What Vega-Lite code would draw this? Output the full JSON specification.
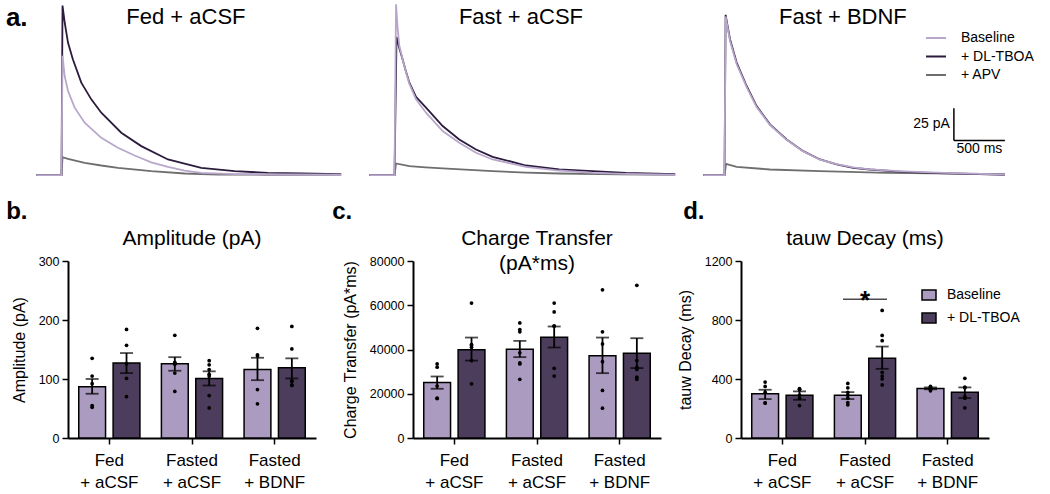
{
"$schema": "https://vega.github.io/schema/vega-lite/v6.json",
"background": "white",
"padding": {"left": 5, "top": 0, "right": 0, "bottom": 0},
"config": {
  "view": {"stroke": null},
  "font": "Liberation Sans, Arial, sans-serif",
  "axis": {"domainColor": "black", "domainWidth": 2, "tickColor": "black", "tickWidth": 1.5, "labelColor": "black", "titleColor": "black", "grid": false, "titleFontWeight": "normal"},
  "axisX": {"labelAngle": 0, "labelFontSize": 17, "labelLineHeight": 22, "tickSize": 6, "labelPadding": 8, "labelBaseline": "top"},
  "axisY": {"labelFontSize": 12.5, "titleFontSize": 16, "tickSize": 6, "labelPadding": 3, "titlePadding": 11},
  "title": {"color": "black", "fontWeight": "bold", "fontSize": 24, "anchor": "start", "frame": "bounds", "baseline": "alphabetic", "offset": 0}
},
"datasets": {
  "traces": [
    {"panel":"Fed + aCSF","series":"+ APV","t":-252,"pA":0},{"panel":"Fed + aCSF","series":"+ APV","t":-5,"pA":0},{"panel":"Fed + aCSF","series":"+ APV","t":5,"pA":14},{"panel":"Fed + aCSF","series":"+ APV","t":59,"pA":12.7},{"panel":"Fed + aCSF","series":"+ APV","t":222,"pA":9.6},{"panel":"Fed + aCSF","series":"+ APV","t":385,"pA":7.5},{"panel":"Fed + aCSF","series":"+ APV","t":548,"pA":5.7},{"panel":"Fed + aCSF","series":"+ APV","t":875,"pA":3.1},{"panel":"Fed + aCSF","series":"+ APV","t":1202,"pA":1.3},{"panel":"Fed + aCSF","series":"+ APV","t":1528,"pA":0.5},{"panel":"Fed + aCSF","series":"+ APV","t":2000,"pA":0.3},{"panel":"Fed + aCSF","series":"+ APV","t":2737,"pA":0.2},
    {"panel":"Fed + aCSF","series":"+ DL-TBOA","t":-252,"pA":0},{"panel":"Fed + aCSF","series":"+ DL-TBOA","t":-5,"pA":0},{"panel":"Fed + aCSF","series":"+ DL-TBOA","t":5,"pA":132},{"panel":"Fed + aCSF","series":"+ DL-TBOA","t":26,"pA":119},{"panel":"Fed + aCSF","series":"+ DL-TBOA","t":59,"pA":103},{"panel":"Fed + aCSF","series":"+ DL-TBOA","t":107,"pA":90},{"panel":"Fed + aCSF","series":"+ DL-TBOA","t":189,"pA":72},{"panel":"Fed + aCSF","series":"+ DL-TBOA","t":287,"pA":59},{"panel":"Fed + aCSF","series":"+ DL-TBOA","t":385,"pA":48.6},{"panel":"Fed + aCSF","series":"+ DL-TBOA","t":581,"pA":33},{"panel":"Fed + aCSF","series":"+ DL-TBOA","t":777,"pA":22.6},{"panel":"Fed + aCSF","series":"+ DL-TBOA","t":1039,"pA":12.2},{"panel":"Fed + aCSF","series":"+ DL-TBOA","t":1365,"pA":5.7},{"panel":"Fed + aCSF","series":"+ DL-TBOA","t":1692,"pA":3.1},{"panel":"Fed + aCSF","series":"+ DL-TBOA","t":2019,"pA":1.8},{"panel":"Fed + aCSF","series":"+ DL-TBOA","t":2345,"pA":1.3},{"panel":"Fed + aCSF","series":"+ DL-TBOA","t":2737,"pA":0.8},
    {"panel":"Fed + aCSF","series":"Baseline","t":-252,"pA":0},{"panel":"Fed + aCSF","series":"Baseline","t":-5,"pA":0},{"panel":"Fed + aCSF","series":"Baseline","t":5,"pA":93},{"panel":"Fed + aCSF","series":"Baseline","t":26,"pA":77},{"panel":"Fed + aCSF","series":"Baseline","t":59,"pA":65.5},{"panel":"Fed + aCSF","series":"Baseline","t":124,"pA":52.5},{"panel":"Fed + aCSF","series":"Baseline","t":222,"pA":40.8},{"panel":"Fed + aCSF","series":"Baseline","t":385,"pA":29},{"panel":"Fed + aCSF","series":"Baseline","t":548,"pA":21.3},{"panel":"Fed + aCSF","series":"Baseline","t":712,"pA":15.3},{"panel":"Fed + aCSF","series":"Baseline","t":875,"pA":10},{"panel":"Fed + aCSF","series":"Baseline","t":1039,"pA":6.5},{"panel":"Fed + aCSF","series":"Baseline","t":1202,"pA":3.6},{"panel":"Fed + aCSF","series":"Baseline","t":1365,"pA":1.8},{"panel":"Fed + aCSF","series":"Baseline","t":1692,"pA":0.8},{"panel":"Fed + aCSF","series":"Baseline","t":2737,"pA":0.3},
    {"panel":"Fast + aCSF","series":"+ APV","t":-252,"pA":0},{"panel":"Fast + aCSF","series":"+ APV","t":-5,"pA":0},{"panel":"Fast + aCSF","series":"+ APV","t":10,"pA":9.1},{"panel":"Fast + aCSF","series":"+ APV","t":141,"pA":7},{"panel":"Fast + aCSF","series":"+ APV","t":300,"pA":6},{"panel":"Fast + aCSF","series":"+ APV","t":467,"pA":5.2},{"panel":"Fast + aCSF","series":"+ APV","t":957,"pA":3.1},{"panel":"Fast + aCSF","series":"+ APV","t":1284,"pA":2},{"panel":"Fast + aCSF","series":"+ APV","t":1610,"pA":1.3},{"panel":"Fast + aCSF","series":"+ APV","t":2200,"pA":0.6},{"panel":"Fast + aCSF","series":"+ APV","t":2747,"pA":0.3},
    {"panel":"Fast + aCSF","series":"+ DL-TBOA","t":-252,"pA":0},{"panel":"Fast + aCSF","series":"+ DL-TBOA","t":-5,"pA":0},{"panel":"Fast + aCSF","series":"+ DL-TBOA","t":15,"pA":107.6},{"panel":"Fast + aCSF","series":"+ DL-TBOA","t":42,"pA":99},{"panel":"Fast + aCSF","series":"+ DL-TBOA","t":75,"pA":90},{"panel":"Fast + aCSF","series":"+ DL-TBOA","t":108,"pA":80.5},{"panel":"Fast + aCSF","series":"+ DL-TBOA","t":141,"pA":72},{"panel":"Fast + aCSF","series":"+ DL-TBOA","t":206,"pA":61},{"panel":"Fast + aCSF","series":"+ DL-TBOA","t":304,"pA":52.5},{"panel":"Fast + aCSF","series":"+ DL-TBOA","t":467,"pA":38.2},{"panel":"Fast + aCSF","series":"+ DL-TBOA","t":630,"pA":27.8},{"panel":"Fast + aCSF","series":"+ DL-TBOA","t":794,"pA":20},{"panel":"Fast + aCSF","series":"+ DL-TBOA","t":957,"pA":14.3},{"panel":"Fast + aCSF","series":"+ DL-TBOA","t":1284,"pA":7.5},{"panel":"Fast + aCSF","series":"+ DL-TBOA","t":1610,"pA":4.4},{"panel":"Fast + aCSF","series":"+ DL-TBOA","t":1937,"pA":3.1},{"panel":"Fast + aCSF","series":"+ DL-TBOA","t":2264,"pA":1.8},{"panel":"Fast + aCSF","series":"+ DL-TBOA","t":2747,"pA":0.8},
    {"panel":"Fast + aCSF","series":"Baseline","t":-252,"pA":0},{"panel":"Fast + aCSF","series":"Baseline","t":-5,"pA":0},{"panel":"Fast + aCSF","series":"Baseline","t":10,"pA":133},{"panel":"Fast + aCSF","series":"Baseline","t":25,"pA":115},{"panel":"Fast + aCSF","series":"Baseline","t":42,"pA":101},{"panel":"Fast + aCSF","series":"Baseline","t":75,"pA":90},{"panel":"Fast + aCSF","series":"Baseline","t":108,"pA":80},{"panel":"Fast + aCSF","series":"Baseline","t":141,"pA":71},{"panel":"Fast + aCSF","series":"Baseline","t":206,"pA":59},{"panel":"Fast + aCSF","series":"Baseline","t":304,"pA":48.6},{"panel":"Fast + aCSF","series":"Baseline","t":467,"pA":34.3},{"panel":"Fast + aCSF","series":"Baseline","t":630,"pA":25.2},{"panel":"Fast + aCSF","series":"Baseline","t":794,"pA":17.4},{"panel":"Fast + aCSF","series":"Baseline","t":957,"pA":12.2},{"panel":"Fast + aCSF","series":"Baseline","t":1284,"pA":6.5},{"panel":"Fast + aCSF","series":"Baseline","t":1610,"pA":3.6},{"panel":"Fast + aCSF","series":"Baseline","t":1937,"pA":1.8},{"panel":"Fast + aCSF","series":"Baseline","t":2264,"pA":1},{"panel":"Fast + aCSF","series":"Baseline","t":2747,"pA":0.3},
    {"panel":"Fast + BDNF","series":"+ APV","t":-213,"pA":0},{"panel":"Fast + BDNF","series":"+ APV","t":-5,"pA":0},{"panel":"Fast + BDNF","series":"+ APV","t":10,"pA":8.8},{"panel":"Fast + BDNF","series":"+ APV","t":114,"pA":6.5},{"panel":"Fast + BDNF","series":"+ APV","t":441,"pA":4.4},{"panel":"Fast + BDNF","series":"+ APV","t":931,"pA":3.1},{"panel":"Fast + BDNF","series":"+ APV","t":1584,"pA":1.8},{"panel":"Fast + BDNF","series":"+ APV","t":2744,"pA":0.8},
    {"panel":"Fast + BDNF","series":"+ DL-TBOA","t":-213,"pA":0},{"panel":"Fast + BDNF","series":"+ DL-TBOA","t":-5,"pA":0},{"panel":"Fast + BDNF","series":"+ DL-TBOA","t":6,"pA":124.8},{"panel":"Fast + BDNF","series":"+ DL-TBOA","t":49,"pA":105.8},{"panel":"Fast + BDNF","series":"+ DL-TBOA","t":114,"pA":87.6},{"panel":"Fast + BDNF","series":"+ DL-TBOA","t":212,"pA":69.4},{"panel":"Fast + BDNF","series":"+ DL-TBOA","t":310,"pA":53.8},{"panel":"Fast + BDNF","series":"+ DL-TBOA","t":441,"pA":39.5},{"panel":"Fast + BDNF","series":"+ DL-TBOA","t":604,"pA":27.8},{"panel":"Fast + BDNF","series":"+ DL-TBOA","t":767,"pA":18.7},{"panel":"Fast + BDNF","series":"+ DL-TBOA","t":931,"pA":12.2},{"panel":"Fast + BDNF","series":"+ DL-TBOA","t":1094,"pA":8.3},{"panel":"Fast + BDNF","series":"+ DL-TBOA","t":1257,"pA":5.7},{"panel":"Fast + BDNF","series":"+ DL-TBOA","t":1421,"pA":4.4},{"panel":"Fast + BDNF","series":"+ DL-TBOA","t":1747,"pA":2.6},{"panel":"Fast + BDNF","series":"+ DL-TBOA","t":2074,"pA":1.6},{"panel":"Fast + BDNF","series":"+ DL-TBOA","t":2401,"pA":1},{"panel":"Fast + BDNF","series":"+ DL-TBOA","t":2744,"pA":0.3},
    {"panel":"Fast + BDNF","series":"Baseline","t":-213,"pA":0},{"panel":"Fast + BDNF","series":"Baseline","t":-5,"pA":0},{"panel":"Fast + BDNF","series":"Baseline","t":6,"pA":123.5},{"panel":"Fast + BDNF","series":"Baseline","t":49,"pA":104.5},{"panel":"Fast + BDNF","series":"Baseline","t":114,"pA":86.5},{"panel":"Fast + BDNF","series":"Baseline","t":212,"pA":68.5},{"panel":"Fast + BDNF","series":"Baseline","t":310,"pA":53},{"panel":"Fast + BDNF","series":"Baseline","t":441,"pA":39},{"panel":"Fast + BDNF","series":"Baseline","t":604,"pA":27.5},{"panel":"Fast + BDNF","series":"Baseline","t":767,"pA":18.5},{"panel":"Fast + BDNF","series":"Baseline","t":931,"pA":12},{"panel":"Fast + BDNF","series":"Baseline","t":1094,"pA":8.5},{"panel":"Fast + BDNF","series":"Baseline","t":1257,"pA":6},{"panel":"Fast + BDNF","series":"Baseline","t":1421,"pA":4.5},{"panel":"Fast + BDNF","series":"Baseline","t":1747,"pA":3},{"panel":"Fast + BDNF","series":"Baseline","t":2074,"pA":2},{"panel":"Fast + BDNF","series":"Baseline","t":2401,"pA":1.2},{"panel":"Fast + BDNF","series":"Baseline","t":2744,"pA":0.5}
  ],
  "bars": [
    {"panel":"amp","group":"Fed + aCSF","cond":"Baseline","mean":87,"lo":75,"hi":100},
    {"panel":"amp","group":"Fed + aCSF","cond":"+ DL-TBOA","mean":127,"lo":110,"hi":144},
    {"panel":"amp","group":"Fasted + aCSF","cond":"Baseline","mean":126,"lo":114,"hi":137},
    {"panel":"amp","group":"Fasted + aCSF","cond":"+ DL-TBOA","mean":101,"lo":89,"hi":113},
    {"panel":"amp","group":"Fasted + BDNF","cond":"Baseline","mean":116,"lo":98,"hi":136},
    {"panel":"amp","group":"Fasted + BDNF","cond":"+ DL-TBOA","mean":119,"lo":101,"hi":135},
    {"panel":"charge","group":"Fed + aCSF","cond":"Baseline","mean":25100,"lo":22250,"hi":27800},
    {"panel":"charge","group":"Fed + aCSF","cond":"+ DL-TBOA","mean":39850,"lo":35000,"hi":45400},
    {"panel":"charge","group":"Fasted + aCSF","cond":"Baseline","mean":40150,"lo":36550,"hi":43900},
    {"panel":"charge","group":"Fasted + aCSF","cond":"+ DL-TBOA","mean":45560,"lo":40900,"hi":50400},
    {"panel":"charge","group":"Fasted + BDNF","cond":"Baseline","mean":37150,"lo":29300,"hi":45400},
    {"panel":"charge","group":"Fasted + BDNF","cond":"+ DL-TBOA","mean":38350,"lo":31600,"hi":45100},
    {"panel":"tau","group":"Fed + aCSF","cond":"Baseline","mean":300,"lo":264,"hi":327},
    {"panel":"tau","group":"Fed + aCSF","cond":"+ DL-TBOA","mean":289,"lo":259,"hi":316},
    {"panel":"tau","group":"Fasted + aCSF","cond":"Baseline","mean":289,"lo":264,"hi":311},
    {"panel":"tau","group":"Fasted + aCSF","cond":"+ DL-TBOA","mean":541,"lo":469,"hi":620},
    {"panel":"tau","group":"Fasted + BDNF","cond":"Baseline","mean":336,"lo":330,"hi":343},
    {"panel":"tau","group":"Fasted + BDNF","cond":"+ DL-TBOA","mean":311,"lo":271,"hi":343}
  ],
  "pts": [
    {"panel":"amp","group":"Fed + aCSF","cond":"Baseline","v":135},{"panel":"amp","group":"Fed + aCSF","cond":"Baseline","v":105},{"panel":"amp","group":"Fed + aCSF","cond":"Baseline","v":92},{"panel":"amp","group":"Fed + aCSF","cond":"Baseline","v":55},{"panel":"amp","group":"Fed + aCSF","cond":"Baseline","v":52},
    {"panel":"amp","group":"Fed + aCSF","cond":"+ DL-TBOA","v":184},{"panel":"amp","group":"Fed + aCSF","cond":"+ DL-TBOA","v":157},{"panel":"amp","group":"Fed + aCSF","cond":"+ DL-TBOA","v":126},{"panel":"amp","group":"Fed + aCSF","cond":"+ DL-TBOA","v":101},{"panel":"amp","group":"Fed + aCSF","cond":"+ DL-TBOA","v":70},
    {"panel":"amp","group":"Fasted + aCSF","cond":"Baseline","v":174},{"panel":"amp","group":"Fasted + aCSF","cond":"Baseline","v":128},{"panel":"amp","group":"Fasted + aCSF","cond":"Baseline","v":127},{"panel":"amp","group":"Fasted + aCSF","cond":"Baseline","v":125},{"panel":"amp","group":"Fasted + aCSF","cond":"Baseline","v":110},{"panel":"amp","group":"Fasted + aCSF","cond":"Baseline","v":79},
    {"panel":"amp","group":"Fasted + aCSF","cond":"+ DL-TBOA","v":131},{"panel":"amp","group":"Fasted + aCSF","cond":"+ DL-TBOA","v":124},{"panel":"amp","group":"Fasted + aCSF","cond":"+ DL-TBOA","v":116},{"panel":"amp","group":"Fasted + aCSF","cond":"+ DL-TBOA","v":108},{"panel":"amp","group":"Fasted + aCSF","cond":"+ DL-TBOA","v":105},{"panel":"amp","group":"Fasted + aCSF","cond":"+ DL-TBOA","v":72},{"panel":"amp","group":"Fasted + aCSF","cond":"+ DL-TBOA","v":51},
    {"panel":"amp","group":"Fasted + BDNF","cond":"Baseline","v":186},{"panel":"amp","group":"Fasted + BDNF","cond":"Baseline","v":141},{"panel":"amp","group":"Fasted + BDNF","cond":"Baseline","v":139},{"panel":"amp","group":"Fasted + BDNF","cond":"Baseline","v":82},{"panel":"amp","group":"Fasted + BDNF","cond":"Baseline","v":58},
    {"panel":"amp","group":"Fasted + BDNF","cond":"+ DL-TBOA","v":189},{"panel":"amp","group":"Fasted + BDNF","cond":"+ DL-TBOA","v":151},{"panel":"amp","group":"Fasted + BDNF","cond":"+ DL-TBOA","v":96},{"panel":"amp","group":"Fasted + BDNF","cond":"+ DL-TBOA","v":97},{"panel":"amp","group":"Fasted + BDNF","cond":"+ DL-TBOA","v":89},{"panel":"amp","group":"Fasted + BDNF","cond":"+ DL-TBOA","v":90},
    {"panel":"charge","group":"Fed + aCSF","cond":"Baseline","v":33500},{"panel":"charge","group":"Fed + aCSF","cond":"Baseline","v":32000},{"panel":"charge","group":"Fed + aCSF","cond":"Baseline","v":23500},{"panel":"charge","group":"Fed + aCSF","cond":"Baseline","v":18000},{"panel":"charge","group":"Fed + aCSF","cond":"Baseline","v":17800},
    {"panel":"charge","group":"Fed + aCSF","cond":"+ DL-TBOA","v":61000},{"panel":"charge","group":"Fed + aCSF","cond":"+ DL-TBOA","v":42000},{"panel":"charge","group":"Fed + aCSF","cond":"+ DL-TBOA","v":42200},{"panel":"charge","group":"Fed + aCSF","cond":"+ DL-TBOA","v":41000},{"panel":"charge","group":"Fed + aCSF","cond":"+ DL-TBOA","v":35000},{"panel":"charge","group":"Fed + aCSF","cond":"+ DL-TBOA","v":24500},
    {"panel":"charge","group":"Fasted + aCSF","cond":"Baseline","v":52000},{"panel":"charge","group":"Fasted + aCSF","cond":"Baseline","v":49000},{"panel":"charge","group":"Fasted + aCSF","cond":"Baseline","v":48000},{"panel":"charge","group":"Fasted + aCSF","cond":"Baseline","v":38500},{"panel":"charge","group":"Fasted + aCSF","cond":"Baseline","v":34000},{"panel":"charge","group":"Fasted + aCSF","cond":"Baseline","v":33500},{"panel":"charge","group":"Fasted + aCSF","cond":"Baseline","v":26500},
    {"panel":"charge","group":"Fasted + aCSF","cond":"+ DL-TBOA","v":61000},{"panel":"charge","group":"Fasted + aCSF","cond":"+ DL-TBOA","v":57000},{"panel":"charge","group":"Fasted + aCSF","cond":"+ DL-TBOA","v":50500},{"panel":"charge","group":"Fasted + aCSF","cond":"+ DL-TBOA","v":50700},{"panel":"charge","group":"Fasted + aCSF","cond":"+ DL-TBOA","v":31500},{"panel":"charge","group":"Fasted + aCSF","cond":"+ DL-TBOA","v":28000},
    {"panel":"charge","group":"Fasted + BDNF","cond":"Baseline","v":67000},{"panel":"charge","group":"Fasted + BDNF","cond":"Baseline","v":48000},{"panel":"charge","group":"Fasted + BDNF","cond":"Baseline","v":42500},{"panel":"charge","group":"Fasted + BDNF","cond":"Baseline","v":34500},{"panel":"charge","group":"Fasted + BDNF","cond":"Baseline","v":21500},{"panel":"charge","group":"Fasted + BDNF","cond":"Baseline","v":13500},
    {"panel":"charge","group":"Fasted + BDNF","cond":"+ DL-TBOA","v":69000},{"panel":"charge","group":"Fasted + BDNF","cond":"+ DL-TBOA","v":35000},{"panel":"charge","group":"Fasted + BDNF","cond":"+ DL-TBOA","v":32000},{"panel":"charge","group":"Fasted + BDNF","cond":"+ DL-TBOA","v":31000},{"panel":"charge","group":"Fasted + BDNF","cond":"+ DL-TBOA","v":27500},{"panel":"charge","group":"Fasted + BDNF","cond":"+ DL-TBOA","v":26500},
    {"panel":"tau","group":"Fed + aCSF","cond":"Baseline","v":379},{"panel":"tau","group":"Fed + aCSF","cond":"Baseline","v":350},{"panel":"tau","group":"Fed + aCSF","cond":"Baseline","v":311},{"panel":"tau","group":"Fed + aCSF","cond":"Baseline","v":237},{"panel":"tau","group":"Fed + aCSF","cond":"Baseline","v":238},
    {"panel":"tau","group":"Fed + aCSF","cond":"+ DL-TBOA","v":335},{"panel":"tau","group":"Fed + aCSF","cond":"+ DL-TBOA","v":330},{"panel":"tau","group":"Fed + aCSF","cond":"+ DL-TBOA","v":327},{"panel":"tau","group":"Fed + aCSF","cond":"+ DL-TBOA","v":290},{"panel":"tau","group":"Fed + aCSF","cond":"+ DL-TBOA","v":270},{"panel":"tau","group":"Fed + aCSF","cond":"+ DL-TBOA","v":220},
    {"panel":"tau","group":"Fasted + aCSF","cond":"Baseline","v":370},{"panel":"tau","group":"Fasted + aCSF","cond":"Baseline","v":340},{"panel":"tau","group":"Fasted + aCSF","cond":"Baseline","v":310},{"panel":"tau","group":"Fasted + aCSF","cond":"Baseline","v":290},{"panel":"tau","group":"Fasted + aCSF","cond":"Baseline","v":270},{"panel":"tau","group":"Fasted + aCSF","cond":"Baseline","v":240},{"panel":"tau","group":"Fasted + aCSF","cond":"Baseline","v":225},
    {"panel":"tau","group":"Fasted + aCSF","cond":"+ DL-TBOA","v":865},{"panel":"tau","group":"Fasted + aCSF","cond":"+ DL-TBOA","v":695},{"panel":"tau","group":"Fasted + aCSF","cond":"+ DL-TBOA","v":660},{"panel":"tau","group":"Fasted + aCSF","cond":"+ DL-TBOA","v":445},{"panel":"tau","group":"Fasted + aCSF","cond":"+ DL-TBOA","v":420},{"panel":"tau","group":"Fasted + aCSF","cond":"+ DL-TBOA","v":400},{"panel":"tau","group":"Fasted + aCSF","cond":"+ DL-TBOA","v":360},
    {"panel":"tau","group":"Fasted + BDNF","cond":"Baseline","v":350},{"panel":"tau","group":"Fasted + BDNF","cond":"Baseline","v":345},{"panel":"tau","group":"Fasted + BDNF","cond":"Baseline","v":340},{"panel":"tau","group":"Fasted + BDNF","cond":"Baseline","v":335},{"panel":"tau","group":"Fasted + BDNF","cond":"Baseline","v":330},{"panel":"tau","group":"Fasted + BDNF","cond":"Baseline","v":320},
    {"panel":"tau","group":"Fasted + BDNF","cond":"+ DL-TBOA","v":405},{"panel":"tau","group":"Fasted + BDNF","cond":"+ DL-TBOA","v":345},{"panel":"tau","group":"Fasted + BDNF","cond":"+ DL-TBOA","v":340},{"panel":"tau","group":"Fasted + BDNF","cond":"+ DL-TBOA","v":280},{"panel":"tau","group":"Fasted + BDNF","cond":"+ DL-TBOA","v":270},{"panel":"tau","group":"Fasted + BDNF","cond":"+ DL-TBOA","v":205}
  ]
},
"columns": 1,
"align": "none",
"spacing": 20,
"resolve": {"scale": {"color": "independent"}, "legend": {"color": "independent"}},
"concat": [
  {
    "columns": 3,
    "align": "none",
    "spacing": 20,
    "resolve": {"scale": {"color": "independent"}, "legend": {"color": "independent"}},
    "concat": [
      {
        "width": 274, "height": 176,
        "layer": [
          {
            "data": {"name": "traces"},
            "transform": [{"filter": "datum.panel === 'Fed + aCSF'"}],
            "mark": {"type": "line", "strokeWidth": 1.8},
            "encoding": {
              "x": {"field": "t", "type": "quantitative", "scale": {"domain": [-255, 2745], "range": [-32, 274], "nice": false, "zero": false}, "axis": null},
              "y": {"field": "pA", "type": "quantitative", "scale": {"domain": [-3, 134], "nice": false}, "axis": null},
              "color": {"field": "series", "type": "nominal", "scale": {"domain": ["Baseline", "+ DL-TBOA", "+ APV"], "range": ["#b8a7cb", "#2b1b3d", "#6e6e6e"]}, "legend": null}
            }
          },
          {
            "data": {"values": [{}]},
            "mark": {"type": "text", "text": "Fed + aCSF", "fontSize": 22, "align": "center", "baseline": "alphabetic", "color": "black"},
            "encoding": {"x": {"datum": 1215, "type": "quantitative", "axis": null}, "y": {"datum": 117.6, "type": "quantitative", "axis": null}}
          },
          {
            "data": {"values": [{}]},
            "mark": {"type": "text", "text": "a.", "fontSize": 26, "fontWeight": "bold", "align": "left", "baseline": "alphabetic", "color": "black"},
            "encoding": {"x": {"datum": -550, "type": "quantitative", "axis": null}, "y": {"datum": 116, "type": "quantitative", "axis": null}}
          }
        ]
      },
      {
        "width": 306, "height": 176,
        "layer": [
          {
            "data": {"name": "traces"},
            "transform": [{"filter": "datum.panel === 'Fast + aCSF'"}],
            "mark": {"type": "line", "strokeWidth": 1.8},
            "encoding": {
              "x": {"field": "t", "type": "quantitative", "scale": {"domain": [-255, 2745], "nice": false, "zero": false}, "axis": null},
              "y": {"field": "pA", "type": "quantitative", "scale": {"domain": [-3, 134], "nice": false}, "axis": null},
              "color": {"field": "series", "type": "nominal", "scale": {"domain": ["Baseline", "+ DL-TBOA", "+ APV"], "range": ["#b8a7cb", "#2b1b3d", "#6e6e6e"]}, "legend": null}
            }
          },
          {
            "data": {"values": [{}]},
            "mark": {"type": "text", "text": "Fast + aCSF", "fontSize": 22, "align": "center", "baseline": "alphabetic", "color": "black"},
            "encoding": {"x": {"datum": 1235, "type": "quantitative", "axis": null}, "y": {"datum": 117.6, "type": "quantitative", "axis": null}}
          }
        ]
      },
      {
        "width": 306, "height": 176,
        "layer": [
          {
            "data": {"name": "traces"},
            "transform": [{"filter": "datum.panel === 'Fast + BDNF'"}],
            "mark": {"type": "line", "strokeWidth": 1.8},
            "encoding": {
              "x": {"field": "t", "type": "quantitative", "scale": {"domain": [-255, 2745], "nice": false, "zero": false}, "axis": null},
              "y": {"field": "pA", "type": "quantitative", "scale": {"domain": [-3, 134], "nice": false}, "axis": null},
              "color": {"field": "series", "type": "nominal", "scale": {"domain": ["Baseline", "+ DL-TBOA", "+ APV"], "range": ["#b8a7cb", "#2b1b3d", "#6e6e6e"]},
                "legend": {"orient": "none", "legendX": 226, "legendY": 24, "title": null, "symbolType": "stroke", "symbolSize": 400, "symbolStrokeWidth": 2, "labelFontSize": 14, "labelColor": "black", "labelOffset": 14, "rowPadding": 0.5, "padding": 0}}
            }
          },
          {
            "data": {"values": [{}]},
            "mark": {"type": "text", "text": "Fast + BDNF", "fontSize": 22, "align": "center", "baseline": "alphabetic", "color": "black"},
            "encoding": {"x": {"datum": 1156, "type": "quantitative", "axis": null}, "y": {"datum": 117.6, "type": "quantitative", "axis": null}}
          },
          {
            "data": {"values": [{"t0": 2244, "t1": 2744, "a0": 27, "a1": 52}]},
            "mark": {"type": "rule", "color": "black", "strokeWidth": 1.5},
            "encoding": {
              "x": {"field": "t0", "type": "quantitative", "axis": null},
              "y": {"field": "a0", "type": "quantitative", "axis": null},
              "y2": {"field": "a1"}
            }
          },
          {
            "data": {"values": [{"t0": 2244, "t1": 2744, "a0": 27, "a1": 52}]},
            "mark": {"type": "rule", "color": "black", "strokeWidth": 1.5},
            "encoding": {
              "x": {"field": "t0", "type": "quantitative", "axis": null},
              "x2": {"field": "t1"},
              "y": {"field": "a0", "type": "quantitative", "axis": null}
            }
          },
          {
            "data": {"values": [{"t": 2244, "a": 40, "label": "25 pA"}]},
            "mark": {"type": "text", "align": "right", "dx": -4, "baseline": "middle", "fontSize": 14, "color": "black"},
            "encoding": {
              "x": {"field": "t", "type": "quantitative", "axis": null},
              "y": {"field": "a", "type": "quantitative", "axis": null},
              "text": {"field": "label"}
            }
          },
          {
            "data": {"values": [{"t": 2494, "a": 20, "label": "500 ms"}]},
            "mark": {"type": "text", "align": "center", "baseline": "middle", "fontSize": 14, "color": "black"},
            "encoding": {
              "x": {"field": "t", "type": "quantitative", "axis": null},
              "y": {"field": "a", "type": "quantitative", "axis": null},
              "text": {"field": "label"}
            }
          }
        ]
      }
    ]
  },
  {
    "columns": 3,
    "align": "none",
    "spacing": 16,
    "resolve": {"scale": {"color": "independent"}, "legend": {"color": "independent"}},
    "concat": [
      {
        "width": 248, "height": 177,
        "title": {"text": "b.", "dx": -5},
        "encoding": {
          "x": {"field": "group", "type": "nominal", "title": null, "scale": {"domain": ["Fed + aCSF", "Fasted + aCSF", "Fasted + BDNF"], "paddingInner": 0.26, "paddingOuter": 0.13},
            "axis": {"labelExpr": "[split(datum.label, ' + ')[0], '+ ' + split(datum.label, ' + ')[1]]"}}
        },
        "layer": [
          {"data": {"name": "bars"}, "transform": [{"filter": "datum.panel === 'amp'"}],
           "mark": {"type": "bar", "stroke": "black", "strokeWidth": 1.5},
           "encoding": {
             "xOffset": {"field": "cond", "type": "nominal", "scale": {"domain": ["Baseline", "+ DL-TBOA"], "paddingInner": 0.22, "paddingOuter": 0}},
             "y": {"field": "mean", "type": "quantitative", "title": "Amplitude (pA)", "scale": {"domain": [0, 300], "nice": false}, "axis": {"values": [0, 100, 200, 300]}},
             "color": {"field": "cond", "type": "nominal", "scale": {"domain": ["Baseline", "+ DL-TBOA"], "range": ["#ac9bc0", "#4c3d5c"]}, "legend": null}}},
          {"data": {"name": "pts"}, "transform": [{"filter": "datum.panel === 'amp'"}],
           "mark": {"type": "circle", "color": "black", "size": 14, "opacity": 1},
           "encoding": {"xOffset": {"field": "cond", "type": "nominal"}, "y": {"field": "v", "type": "quantitative", "title": "Amplitude (pA)"}}},
          {"data": {"name": "bars"}, "transform": [{"filter": "datum.panel === 'amp'"}],
           "mark": {"type": "rule", "color": "black", "strokeWidth": 1.8},
           "encoding": {"xOffset": {"field": "cond", "type": "nominal"}, "y": {"field": "lo", "type": "quantitative", "title": "Amplitude (pA)"}, "y2": {"field": "hi"}}},
          {"data": {"name": "bars"}, "transform": [{"filter": "datum.panel === 'amp'"}],
           "mark": {"type": "tick", "color": "black", "thickness": 1.8, "size": 13},
           "encoding": {"xOffset": {"field": "cond", "type": "nominal"}, "y": {"field": "lo", "type": "quantitative", "title": "Amplitude (pA)"}}},
          {"data": {"name": "bars"}, "transform": [{"filter": "datum.panel === 'amp'"}],
           "mark": {"type": "tick", "color": "black", "thickness": 1.8, "size": 13},
           "encoding": {"xOffset": {"field": "cond", "type": "nominal"}, "y": {"field": "hi", "type": "quantitative", "title": "Amplitude (pA)"}}},
          {"data": {"values": [{}]},
           "mark": {"type": "text", "text": "Amplitude (pA)", "fontSize": 21, "align": "center", "baseline": "alphabetic", "color": "black"},
           "encoding": {"x": {"datum": "Fasted + aCSF", "type": "nominal"}, "y": {"datum": 327, "type": "quantitative", "title": "Amplitude (pA)"}}}
        ]
      },
      {
        "width": 248, "height": 177,
        "title": {"text": "c.", "dx": -10},
        "encoding": {
          "x": {"field": "group", "type": "nominal", "title": null, "scale": {"domain": ["Fed + aCSF", "Fasted + aCSF", "Fasted + BDNF"], "paddingInner": 0.26, "paddingOuter": 0.13},
            "axis": {"labelExpr": "[split(datum.label, ' + ')[0], '+ ' + split(datum.label, ' + ')[1]]"}}
        },
        "layer": [
          {"data": {"name": "bars"}, "transform": [{"filter": "datum.panel === 'charge'"}],
           "mark": {"type": "bar", "stroke": "black", "strokeWidth": 1.5},
           "encoding": {
             "xOffset": {"field": "cond", "type": "nominal", "scale": {"domain": ["Baseline", "+ DL-TBOA"], "paddingInner": 0.22, "paddingOuter": 0}},
             "y": {"field": "mean", "type": "quantitative", "title": "Charge Transfer (pA*ms)", "scale": {"domain": [0, 80000], "nice": false}, "axis": {"values": [0, 20000, 40000, 60000, 80000], "format": "d"}},
             "color": {"field": "cond", "type": "nominal", "scale": {"domain": ["Baseline", "+ DL-TBOA"], "range": ["#ac9bc0", "#4c3d5c"]}, "legend": null}}},
          {"data": {"name": "pts"}, "transform": [{"filter": "datum.panel === 'charge'"}],
           "mark": {"type": "circle", "color": "black", "size": 14, "opacity": 1},
           "encoding": {"xOffset": {"field": "cond", "type": "nominal"}, "y": {"field": "v", "type": "quantitative", "title": "Charge Transfer (pA*ms)"}}},
          {"data": {"name": "bars"}, "transform": [{"filter": "datum.panel === 'charge'"}],
           "mark": {"type": "rule", "color": "black", "strokeWidth": 1.8},
           "encoding": {"xOffset": {"field": "cond", "type": "nominal"}, "y": {"field": "lo", "type": "quantitative", "title": "Charge Transfer (pA*ms)"}, "y2": {"field": "hi"}}},
          {"data": {"name": "bars"}, "transform": [{"filter": "datum.panel === 'charge'"}],
           "mark": {"type": "tick", "color": "black", "thickness": 1.8, "size": 13},
           "encoding": {"xOffset": {"field": "cond", "type": "nominal"}, "y": {"field": "lo", "type": "quantitative", "title": "Charge Transfer (pA*ms)"}}},
          {"data": {"name": "bars"}, "transform": [{"filter": "datum.panel === 'charge'"}],
           "mark": {"type": "tick", "color": "black", "thickness": 1.8, "size": 13},
           "encoding": {"xOffset": {"field": "cond", "type": "nominal"}, "y": {"field": "hi", "type": "quantitative", "title": "Charge Transfer (pA*ms)"}}},
          {"data": {"values": [{}]},
           "mark": {"type": "text", "text": "Charge Transfer", "fontSize": 21, "align": "center", "baseline": "alphabetic", "color": "black"},
           "encoding": {"x": {"datum": "Fasted + aCSF", "type": "nominal"}, "y": {"datum": 87232, "type": "quantitative", "title": "Charge Transfer (pA*ms)"}}},
          {"data": {"values": [{}]},
           "mark": {"type": "text", "text": "(pA*ms)", "fontSize": 21, "align": "center", "baseline": "alphabetic", "color": "black"},
           "encoding": {"x": {"datum": "Fasted + aCSF", "type": "nominal"}, "y": {"datum": 75932, "type": "quantitative", "title": "Charge Transfer (pA*ms)"}}}
        ]
      },
      {
        "width": 248, "height": 177,
        "title": {"text": "d.", "dx": 6},
        "encoding": {
          "x": {"field": "group", "type": "nominal", "title": null, "scale": {"domain": ["Fed + aCSF", "Fasted + aCSF", "Fasted + BDNF"], "paddingInner": 0.26, "paddingOuter": 0.13},
            "axis": {"labelExpr": "[split(datum.label, ' + ')[0], '+ ' + split(datum.label, ' + ')[1]]"}}
        },
        "layer": [
          {"data": {"name": "bars"}, "transform": [{"filter": "datum.panel === 'tau'"}],
           "mark": {"type": "bar", "stroke": "black", "strokeWidth": 1.5},
           "encoding": {
             "xOffset": {"field": "cond", "type": "nominal", "scale": {"domain": ["Baseline", "+ DL-TBOA"], "paddingInner": 0.22, "paddingOuter": 0}},
             "y": {"field": "mean", "type": "quantitative", "title": "tauw Decay (ms)", "scale": {"domain": [0, 1200], "nice": false}, "axis": {"values": [0, 400, 800, 1200], "format": "d"}},
             "color": {"field": "cond", "type": "nominal", "scale": {"domain": ["Baseline", "+ DL-TBOA"], "range": ["#ac9bc0", "#4c3d5c"]},
               "legend": {"orient": "none", "legendX": 180, "legendY": 26, "title": null, "symbolType": "M-1,-0.7H1V0.7H-1Z", "symbolSize": 196, "symbolStrokeColor": "black", "symbolStrokeWidth": 1.5, "symbolOpacity": 1, "labelFontSize": 14, "labelColor": "black", "labelOffset": 10, "rowPadding": 7, "padding": 0}}}},
          {"data": {"name": "pts"}, "transform": [{"filter": "datum.panel === 'tau'"}],
           "mark": {"type": "circle", "color": "black", "size": 14, "opacity": 1},
           "encoding": {"xOffset": {"field": "cond", "type": "nominal"}, "y": {"field": "v", "type": "quantitative", "title": "tauw Decay (ms)"}}},
          {"data": {"name": "bars"}, "transform": [{"filter": "datum.panel === 'tau'"}],
           "mark": {"type": "rule", "color": "black", "strokeWidth": 1.8},
           "encoding": {"xOffset": {"field": "cond", "type": "nominal"}, "y": {"field": "lo", "type": "quantitative", "title": "tauw Decay (ms)"}, "y2": {"field": "hi"}}},
          {"data": {"name": "bars"}, "transform": [{"filter": "datum.panel === 'tau'"}],
           "mark": {"type": "tick", "color": "black", "thickness": 1.8, "size": 13},
           "encoding": {"xOffset": {"field": "cond", "type": "nominal"}, "y": {"field": "lo", "type": "quantitative", "title": "tauw Decay (ms)"}}},
          {"data": {"name": "bars"}, "transform": [{"filter": "datum.panel === 'tau'"}],
           "mark": {"type": "tick", "color": "black", "thickness": 1.8, "size": 13},
           "encoding": {"xOffset": {"field": "cond", "type": "nominal"}, "y": {"field": "hi", "type": "quantitative", "title": "tauw Decay (ms)"}}},
          {"data": {"values": [{"group": "Fasted + aCSF", "y": 941, "label": "*"}]},
           "mark": {"type": "tick", "color": "black", "thickness": 1.5, "size": 44},
           "encoding": {"y": {"field": "y", "type": "quantitative", "title": "tauw Decay (ms)"}}},
          {"data": {"values": [{"group": "Fasted + aCSF", "y": 941, "label": "*"}]},
           "mark": {"type": "text", "color": "black", "fontSize": 26, "fontWeight": "bold", "baseline": "alphabetic", "dy": 10},
           "encoding": {"y": {"field": "y", "type": "quantitative", "title": "tauw Decay (ms)"}, "text": {"field": "label"}}},
          {"data": {"values": [{}]},
           "mark": {"type": "text", "text": "tauw Decay (ms)", "fontSize": 21, "align": "center", "baseline": "alphabetic", "color": "black"},
           "encoding": {"x": {"datum": "Fasted + aCSF", "type": "nominal"}, "y": {"datum": 1308, "type": "quantitative", "title": "tauw Decay (ms)"}}}
        ]
      }
    ]
  }
]
}
